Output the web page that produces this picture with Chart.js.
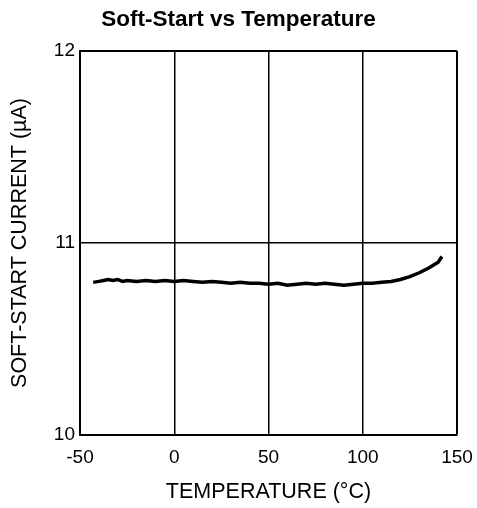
<!DOCTYPE html>
<html>
<head>
<meta charset="utf-8">
<script src="https://cdn.jsdelivr.net/npm/chart.js@4.4.1/dist/chart.umd.min.js"></script>
<style>
  html, body { margin: 0; padding: 0; background: #fff; }
  #wrap { width: 477px; height: 508px; }
</style>
</head>
<body>
<div id="wrap"><canvas id="softStartChart" width="477" height="508"></canvas></div>
<script>
// temperature (°C)
const temps = [-43, -40, -37.5, -35, -32.5, -30, -27.5, -25, -20, -15, -10, -5, 0, 5, 10, 15, 20, 25, 30,
               35, 40, 45, 50, 55, 60, 65, 70, 75, 80, 85, 90, 95, 100, 105, 110, 115, 120, 125, 130,
               135, 140, 142];
// soft-start current (µA)
const current = [10.795, 10.80, 10.805, 10.81, 10.805, 10.81, 10.80, 10.805, 10.80, 10.805, 10.80, 10.805,
                 10.80, 10.805, 10.80, 10.795, 10.80, 10.795, 10.79, 10.795, 10.79, 10.79, 10.785, 10.79,
                 10.78, 10.785, 10.79, 10.785, 10.79, 10.785, 10.78, 10.785, 10.79, 10.79, 10.795, 10.80,
                 10.81, 10.825, 10.845, 10.87, 10.90, 10.93];
const xTicks = [-50, 0, 50, 100, 150];
const yTicks = [10, 11, 12];

const FONT = "'Liberation Sans', Arial, Helvetica, sans-serif";
const points = temps.map((t, i) => ({ x: t, y: current[i] }));

new Chart(document.getElementById("softStartChart"), {
    type: 'line',
    data: {
        datasets: [{
            data: points,
            borderColor: '#000',
            borderWidth: 3.5,
            pointRadius: 0,
            tension: 0,
            fill: false
        }]
    },
    options: {
        responsive: false,
        animation: false,
        layout: { padding: 0 },
        plugins: {
            legend: { display: false },
            tooltip: { enabled: false },
            title: {
                display: true,
                text: 'Soft-Start vs Temperature',
                color: '#000',
                font: { family: FONT, size: 22.5, weight: 'bold' },
                padding: { top: 6, bottom: 18 }
            }
        },
        scales: {
            x: {
                type: 'linear',
                min: xTicks[0],
                max: xTicks[xTicks.length - 1],
                afterBuildTicks: s => { s.ticks = xTicks.map(v => ({ value: v })); },
                afterFit: s => { s.height = 73; s.paddingLeft = 0; s.paddingRight = 20; },
                ticks: { color: '#000', font: { family: FONT, size: 19 }, padding: 11, maxRotation: 0 },
                grid: {
                    drawTicks: false,
                    color: '#000',
                    lineWidth: c => (c.tick.value === 150 ? 2 : 1.5)
                },
                border: { display: true, color: '#000', width: 2 },
                title: {
                    display: true,
                    text: 'TEMPERATURE (°C)',
                    color: '#000',
                    font: { family: FONT, size: 21.5 },
                    padding: { top: 0, bottom: 3 }
                }
            },
            y: {
                min: yTicks[0],
                max: yTicks[yTicks.length - 1],
                afterBuildTicks: s => { s.ticks = yTicks.map(v => ({ value: v })); },
                afterFit: s => { s.width = 80; },
                ticks: { color: '#000', font: { family: FONT, size: 19 }, padding: 5 },
                grid: {
                    drawTicks: false,
                    color: '#000',
                    lineWidth: c => (c.tick.value === 12 ? 2 : 1.5)
                },
                border: { display: true, color: '#000', width: 2 },
                title: {
                    display: true,
                    text: 'SOFT-START CURRENT (µA)',
                    color: '#000',
                    font: { family: FONT, size: 21.5 },
                    padding: { top: 7, bottom: 0 }
                }
            }
        }
    }
});
</script>
</body>
</html>
